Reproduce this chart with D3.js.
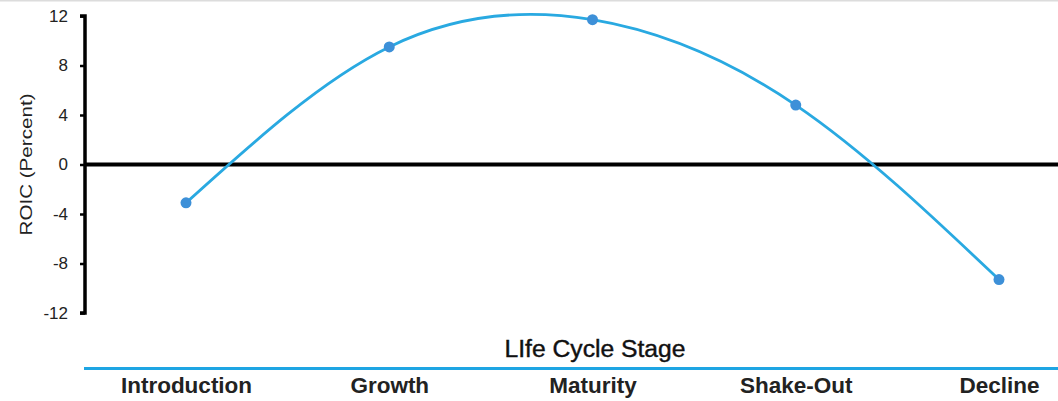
<!DOCTYPE html>
<html>
<head>
<meta charset="utf-8">
<script src="https://cdn.jsdelivr.net/npm/d3@7"></script>
<style>
html,body{margin:0;padding:0;background:#fff;}
svg{display:block;font-family:"Liberation Sans",Arial,sans-serif;}
</style>
</head>
<body>
<svg id="chart" width="1058" height="401"></svg>
<script>
// data
const stages = ['Introduction','Growth','Maturity','Shake-Out','Decline'];
const roic = [-3.1, 9.5, 11.7, 4.8, -9.3];
const yTicks = [12, 8, 4, 0, -4, -8, -12];

const svg = d3.select('#chart');
const W = 1058, H = 401;

// faint top border
svg.append('line').attr('x1',0).attr('x2',W).attr('y1',0.5).attr('y2',0.5)
  .attr('stroke','#dcdcdc').attr('stroke-width',2);

const x = d3.scalePoint().domain(stages).range([186, 999]);
const y = d3.scaleLinear().domain([-12, 12]).range([313, 16]);

// y axis
const yAxis = d3.axisLeft(y).tickValues(yTicks).tickSize(5).tickPadding(12).tickFormat(d => String(d));
const ga = svg.append('g').attr('transform','translate(85,0)').call(yAxis);
ga.select('.domain').attr('stroke','#000').attr('stroke-width',3.5)
  .attr('d', `M-5,${y(12)}H0V${y(-12)}H-5`);
ga.selectAll('.tick text').attr('font-size',17).attr('fill','#222');
ga.selectAll('.tick line').attr('stroke','#000').attr('stroke-width',2.5);

// zero line
svg.append('line').attr('x1',84).attr('x2',W).attr('y1',y(0)).attr('y2',y(0))
  .attr('stroke','#000').attr('stroke-width',4);

svg.append('text').attr('transform',`translate(32,${y(0)}) rotate(-90)`)
  .attr('text-anchor','middle').attr('font-size',17).attr('fill','#222')
  .attr('textLength',142).attr('lengthAdjust','spacingAndGlyphs')
  .text('ROIC (Percent)');

// curve
const pts = stages.map((s,i) => [x(s), y(roic[i])]);
svg.append('path').datum(pts)
  .attr('d', d3.line().curve(d3.curveNatural))
  .attr('fill','none').attr('stroke','#29a9e1').attr('stroke-width',2.8);

svg.selectAll('circle.pt').data(pts).join('circle').attr('class','pt')
  .attr('cx', d => d[0]).attr('cy', d => d[1]).attr('r',5.5)
  .attr('fill','#3d90d8');

// x title + band
svg.append('text').attr('x',595).attr('y',357).attr('text-anchor','middle')
  .attr('font-size',23).attr('fill','#111')
  .attr('stroke','#111').attr('stroke-width',0.4)
  .attr('textLength',181).attr('lengthAdjust','spacingAndGlyphs')
  .text('LIfe Cycle Stage');
svg.append('line').attr('x1',84).attr('x2',W).attr('y1',368.5).attr('y2',368.5)
  .attr('stroke','#1ea5e3').attr('stroke-width',3);

const xAxis = d3.axisBottom(x).tickSize(0).tickPadding(0);
const gx = svg.append('g').attr('transform','translate(0,393)').call(xAxis);
gx.select('.domain').remove();
gx.selectAll('.tick text').attr('font-size',22.5).attr('font-weight','bold')
  .attr('fill','#222').attr('dy',0);
</script>
</body>
</html>
